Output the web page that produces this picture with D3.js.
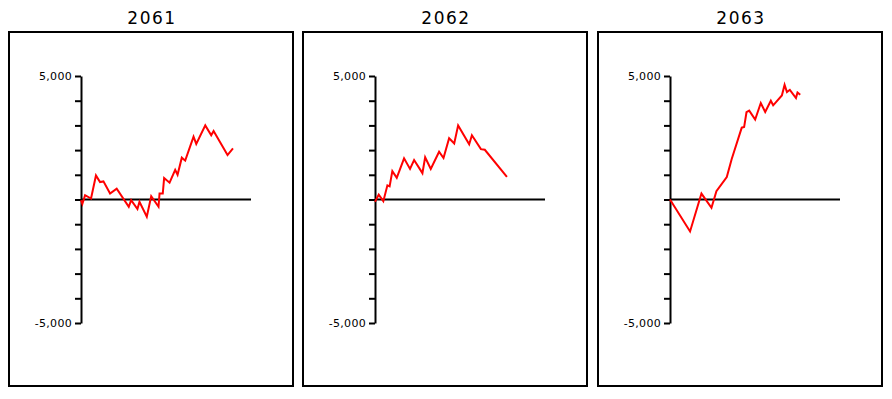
<!DOCTYPE html>
<html><head><meta charset="utf-8">
<script src="https://cdn.jsdelivr.net/npm/d3@7"></script>
<style>body{margin:0;background:#fff}svg{display:block}</style>
</head><body>
<svg id="c" width="892" height="399"></svg>
<script>
const years = ["2061", "2062", "2063"];
const yTicks = [-5000,-4000,-3000,-2000,-1000,0,1000,2000,3000,4000,5000];
const series2061 = [[0,-30],[0.8,-180],[2.4,173],[5.9,40],[8.8,973],[11.2,707],[13.2,733],[17.1,240],[21.0,440],[28.1,-293],[29.5,-27],[33.2,-387],[34.4,-93],[38.7,-693],[41.3,133],[45.6,-293],[46.2,240],[48.1,240],[48.9,867],[52.1,680],[55.4,1200],[56.8,1000],[59.3,1693],[61.3,1573],[66.2,2547],[67.8,2253],[73.1,3000],[76.6,2600],[78.0,2773],[86.2,1800],[89.4,2067]];
const series2062 = [[0,-93],[2.2,200],[4.9,-67],[7.3,573],[8.6,533],[10.2,1147],[12.8,880],[17.1,1667],[20.6,1240],[23.0,1600],[27.9,1067],[29.5,1707],[32.8,1240],[37.7,1933],[40.3,1680],[43.6,2480],[46.6,2267],[48.9,3000],[55.4,2240],[57.0,2600],[62.3,2040],[64.6,2013],[77.6,920]];
const series2063 = [[0,0],[11.8,-1293],[18.5,240],[24.4,-333],[27.3,333],[33.4,907],[36.3,1640],[42.2,2907],[43.6,2933],[45.0,3533],[46.6,3600],[50.1,3240],[53.4,3907],[56.0,3547],[59.3,4000],[60.7,3813],[65.8,4213],[67.4,4640],[68.8,4347],[70.5,4440],[74.1,4107],[75.0,4333],[76.6,4240]];
const allSeries = [series2061, series2062, series2063];

const svg = d3.select("#c");
const font = "'DejaVu Sans', sans-serif";
const boxX = [9, 303, 598], boxY = 32, boxW = 284, boxH = 354;
const x = d3.scaleLinear().domain([0, 100]).range([72, 242]);
const y = d3.scaleLinear().domain([-5000, 5000]).range([291, 44]);

years.forEach((yr, i) => {
  const g = svg.append("g").attr("transform", `translate(${boxX[i]},${boxY})`);
  g.append("rect").attr("x", 0).attr("y", 0).attr("width", boxW).attr("height", boxH)
    .attr("fill", "none").attr("stroke", "#000").attr("stroke-width", 2);
  svg.append("text").attr("x", boxX[i] + boxW / 2 + 1).attr("y", 24)
    .attr("text-anchor", "middle").attr("font-family", font).attr("font-size", 17)
    .attr("letter-spacing", 1.5).attr("fill", "#000").text(yr);
  const ax = g.append("g").attr("transform", `translate(${x(0)},0)`)
    .call(d3.axisLeft(y).tickValues(yTicks).tickSize(6).tickSizeOuter(0)
      .tickFormat(d => Math.abs(d) === 5000 ? d3.format(",")(d).replace("−", "-") : ""));
  ax.select(".domain").attr("stroke-width", 2);
  ax.selectAll(".tick line").attr("stroke-width", 2);
  ax.selectAll(".tick text").attr("font-family", font).attr("font-size", 11).attr("letter-spacing", 0.3)
    .attr("fill", "#000").attr("x", -9);
  g.append("line").attr("x1", x(0)).attr("x2", x(100)).attr("y1", y(0)).attr("y2", y(0))
    .attr("stroke", "#000").attr("stroke-width", 2);
  g.append("path").datum(allSeries[i])
    .attr("d", d3.line().x(d => x(d[0])).y(d => y(d[1])))
    .attr("fill", "none").attr("stroke", "#ff0000").attr("stroke-width", 2);
});
</script>
</body></html>
